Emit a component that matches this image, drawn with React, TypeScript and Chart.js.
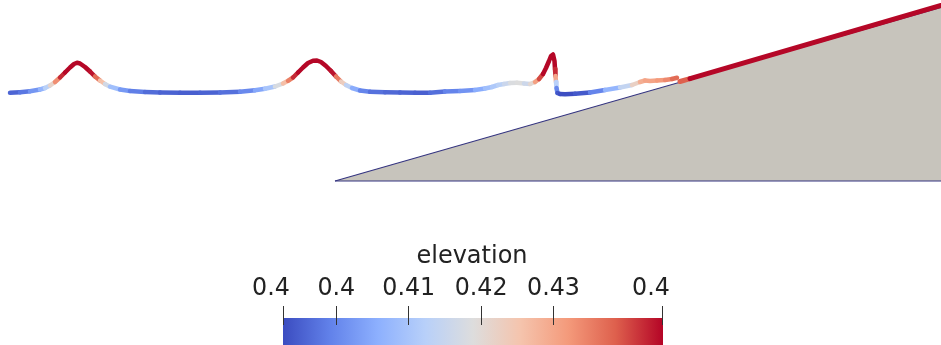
import { useEffect, useRef } from "react";
import { Chart, registerables } from "chart.js";

Chart.register(...registerables);

// Free surface profile (distance along channel, surface height, elevation value)
const waveX = [10, 20, 30, 40, 45, 50, 55, 60, 65, 70, 74, 77, 80, 85, 90, 95, 100, 105, 110, 120, 130, 145, 160, 180, 200, 220, 240, 255, 265, 275, 283, 288, 293, 298, 303, 308, 313, 317, 321, 326, 331, 336, 341, 346, 352, 360, 370, 385, 400, 415, 430, 445, 460, 475, 485, 492, 498, 504, 510, 517, 524, 530, 535, 539, 543, 546, 549, 551, 553, 554.5, 555, 555.5, 556, 556.5, 557.5, 560, 565, 575, 590, 605, 620, 632, 640, 645, 650, 657, 665, 672, 677];
const waveHeight = [252.2, 252.7, 253.7, 255.5, 257, 259.5, 263, 267.5, 272.5, 277.5, 281, 282.3, 281.5, 278, 273.5, 268.5, 264.5, 261, 258.3, 255.5, 254, 253, 252.5, 252.2, 252.2, 252.5, 253.3, 254.7, 256.2, 258.5, 261.5, 264.2, 267.5, 272.5, 277.5, 282, 284.2, 284.5, 283, 279, 274, 268.5, 263.5, 260, 257, 254.5, 253.2, 252.7, 252.5, 252.3, 252.2, 253.5, 254, 255, 256.5, 258, 260, 261, 262, 262.3, 261.5, 261, 263, 266, 271, 277, 284, 289, 290.5, 284, 276, 269, 263, 257, 252, 251, 250.7, 251.2, 252.5, 255, 257.5, 260, 263, 264.5, 264, 264.5, 265, 266, 267.2];
const waveElevation = [0.395, 0.3965, 0.3994, 0.4047, 0.4091, 0.4165, 0.4268, 0.44, 0.445, 0.445, 0.445, 0.445, 0.445, 0.445, 0.445, 0.4432, 0.4312, 0.4209, 0.4129, 0.4047, 0.4003, 0.3974, 0.3959, 0.395, 0.395, 0.3959, 0.3982, 0.4024, 0.4068, 0.4135, 0.4223, 0.4303, 0.44, 0.445, 0.445, 0.445, 0.445, 0.445, 0.445, 0.445, 0.445, 0.4432, 0.4283, 0.4179, 0.4091, 0.4015, 0.3979, 0.3965, 0.3959, 0.3953, 0.395, 0.3988, 0.4003, 0.4032, 0.4076, 0.41, 0.412, 0.414, 0.417, 0.42, 0.418, 0.414, 0.4268, 0.4356, 0.445, 0.445, 0.445, 0.445, 0.445, 0.445, 0.445, 0.44, 0.42, 0.405, 0.395, 0.393, 0.393, 0.393, 0.3959, 0.4032, 0.4106, 0.4179, 0.4268, 0.4312, 0.4297, 0.4312, 0.4326, 0.4356, 0.439];

// Surface running up the slope
const rampX = [680, 690, 941];
const rampHeight = [263.5, 266.4, 339.5];
const rampElevation = [0.432, 0.445, 0.445];

// Sloping beach (wedge)
const wedgeX = [335, 941];
const wedgeHeight = [164, 337.5];
const wedgeBase = 164;

// Colour bar
const colorbarTitle = "elevation";
const colorbarMin = 0.3927;
const colorbarMax = 0.4452;
const colorbarTicks = [0.4, 0.41, 0.42, 0.43];
const colorbarTickLabels = ["0.4", "0.41", "0.42", "0.43"];
const colorbarEndLabels = ["0.4", "0.4"];

const coolWarm: number[][] = [
  [0, 59, 76, 192],
  [0.125, 98, 130, 234],
  [0.25, 141, 176, 254],
  [0.375, 184, 208, 249],
  [0.5, 221, 221, 221],
  [0.625, 245, 196, 173],
  [0.75, 244, 154, 123],
  [0.875, 222, 96, 77],
  [1, 180, 4, 38],
];

function colorAt(v: number): string {
  let t = (v - colorbarMin) / (colorbarMax - colorbarMin);
  t = Math.max(0, Math.min(1, t));
  for (let i = 0; i < coolWarm.length - 1; i++) {
    const a = coolWarm[i];
    const b = coolWarm[i + 1];
    if (t <= b[0]) {
      const f = (t - a[0]) / (b[0] - a[0]);
      const r = Math.round(a[1] + (b[1] - a[1]) * f);
      const g = Math.round(a[2] + (b[2] - a[2]) * f);
      const bl = Math.round(a[3] + (b[3] - a[3]) * f);
      return `rgb(${r},${g},${bl})`;
    }
  }
  return "rgb(180,4,38)";
}

const BAR = { left: 283, right: 663, top: 318, bottom: 345, tickTop: 306, tickBottom: 325 };

function drawText(ctx: CanvasRenderingContext2D, text: string, cx: number, baseline: number, font: string, sx: number) {
  ctx.save();
  ctx.font = font;
  ctx.textAlign = "center";
  ctx.textBaseline = "alphabetic";
  ctx.translate(cx, baseline);
  ctx.scale(sx, 1);
  ctx.fillText(text, 0, 0);
  ctx.restore();
}

const colorbarPlugin = {
  id: "colorbar",
  afterDraw(chart: any) {
    const ctx = chart.ctx as CanvasRenderingContext2D;
    ctx.save();
    const w = BAR.right - BAR.left;
    const grad = ctx.createLinearGradient(BAR.left, 0, BAR.right, 0);
    coolWarm.forEach((s) => grad.addColorStop(s[0], `rgb(${s[1]},${s[2]},${s[3]})`));
    ctx.fillStyle = grad;
    ctx.fillRect(BAR.left, BAR.top, w, BAR.bottom - BAR.top);
    const xOf = (v: number) => BAR.left + ((v - colorbarMin) / (colorbarMax - colorbarMin)) * w;
    ctx.strokeStyle = "#333";
    ctx.lineWidth = 1;
    const tickVals = [colorbarMin, ...colorbarTicks, colorbarMax];
    tickVals.forEach((v) => {
      const x = Math.min(BAR.right - 0.5, Math.round(xOf(v)) + 0.5);
      ctx.beginPath();
      ctx.moveTo(x, BAR.tickTop);
      ctx.lineTo(x, BAR.tickBottom);
      ctx.stroke();
    });
    ctx.fillStyle = "#222";
    const labelFont = '25px "DejaVu Sans"';
    colorbarTicks.forEach((v, i) => {
      drawText(ctx, colorbarTickLabels[i], xOf(v) + 0.5, 295, labelFont, 0.95);
    });
    drawText(ctx, colorbarEndLabels[0], 271, 295, labelFont, 0.95);
    drawText(ctx, colorbarEndLabels[1], 651, 295, labelFont, 0.95);
    drawText(ctx, colorbarTitle, 472, 263, '24px "DejaVu Sans"', 1.0);
    ctx.restore();
  },
};

export default function App() {
  const ref = useRef<HTMLCanvasElement | null>(null);
  useEffect(() => {
    if (!ref.current) return;
    const wave = waveX.map((x, i) => ({ x, y: waveHeight[i] }));
    const ramp = rampX.map((x, i) => ({ x, y: rampHeight[i] }));
    const wedge = wedgeX.map((x, i) => ({ x, y: wedgeHeight[i] }));
    const base = wedgeX.map((x) => ({ x, y: wedgeBase }));
    const segColor = (elev: number[]) => (c: any) =>
      colorAt((elev[c.p0DataIndex] + elev[c.p1DataIndex]) / 2);
    const chart = new Chart(ref.current, {
      type: "line",
      data: {
        datasets: [
          {
            data: wave,
            order: 0,
            borderWidth: 4.5,
            pointRadius: 0,
            borderCapStyle: "round",
            borderJoinStyle: "round",
            borderColor: colorAt(waveElevation[0]),
            segment: { borderColor: segColor(waveElevation) },
            fill: false,
          } as any,
          {
            data: ramp,
            order: 1,
            borderWidth: 5,
            pointRadius: 0,
            borderCapStyle: "round",
            borderColor: colorAt(rampElevation[2]),
            segment: { borderColor: segColor(rampElevation) },
            fill: false,
          } as any,
          {
            data: base,
            order: 2,
            borderWidth: 1.2,
            pointRadius: 0,
            borderColor: "rgb(52,52,128)",
            fill: false,
          },
          {
            data: wedge,
            order: 3,
            borderWidth: 1.2,
            pointRadius: 0,
            borderColor: "rgb(52,52,128)",
            backgroundColor: "rgb(199,196,188)",
            fill: { value: wedgeBase },
          } as any,
        ],
      },
      options: {
        animation: false,
        responsive: false,
        maintainAspectRatio: false,
        layout: { padding: 0 },
        plugins: { legend: { display: false }, tooltip: { enabled: false } },
        elements: { line: { tension: 0 } },
        scales: {
          x: { type: "linear", min: 0, max: 941, display: false },
          y: { type: "linear", min: 0, max: 345, display: false },
        },
      } as any,
      plugins: [colorbarPlugin],
    });
    return () => chart.destroy();
  }, []);
  return (
    <div style={{ position: "fixed", left: 0, top: 0, width: 941, height: 345, background: "#fff" }}>
      <canvas ref={ref} width={941} height={345} style={{ display: "block" }} />
    </div>
  );
}
